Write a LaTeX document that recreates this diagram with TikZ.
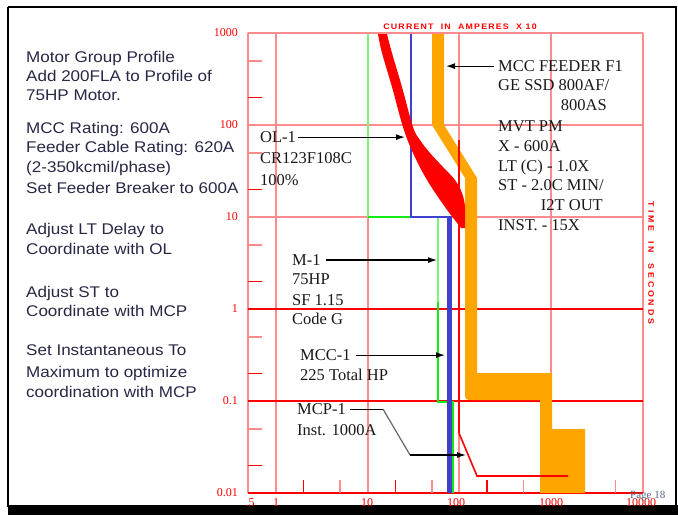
\documentclass[tikz,border=0pt]{standalone}
\usepackage{fontspec}
\usepackage{graphicx}
\setmainfont{Liberation Serif}
\newfontfamily\lsans[FakeStretch=1.1]{Liberation Sans}
\usetikzlibrary{arrows.meta}
\definecolor{gpink}{RGB}{255,140,140}
\definecolor{ocurve}{RGB}{255,165,0}
\definecolor{bcurve}{RGB}{64,64,204}
\definecolor{gcurve}{RGB}{20,235,20}
\definecolor{lgreen}{RGB}{120,245,120}
\definecolor{notetext}{RGB}{40,40,70}
\definecolor{pagetext}{RGB}{90,100,130}
\begin{document}
\begin{tikzpicture}[x=1pt,y=-1pt,
  pinkline/.style={draw=gpink,line width=1.3pt},
  redline/.style={draw=red,line width=1.3pt},
  ticklight/.style={fill=gpink},
  tickred/.style={fill=red},
  axlab/.style={text=red,font=\fontsize{12}{12}\selectfont,inner sep=0pt},
  note/.style={font=\fontsize{15.5}{15.5}\lsans,text=notetext,anchor=base west,inner sep=0pt},
  ann/.style={font=\fontsize{16.5}{16.5}\selectfont,text=black!90,anchor=base west,inner sep=0pt},
  annr/.style={ann,anchor=base east},
  arr/.style={-{Latex[length=9pt,width=6pt]},line width=1.2pt,black}]
\useasboundingbox (0,0) rectangle (678,515);
\fill[white] (0,0) rectangle (678,515);
% frame
\draw[line width=1.2pt] (8,7) -- (676,7) -- (676,507);
\draw[line width=2pt] (8,7) -- (8,507);
\fill[black] (8,505) rectangle (678,515);
% grid
\foreach \gx in {248,276,368,459,551,643} \draw[pinkline] (\gx,33) -- (\gx,493);
\foreach \gy in {33,125,217} \draw[pinkline] (248,\gy) -- (643,\gy);
\foreach \gy in {309,401,493} \draw[redline] (248,\gy) -- (643,\gy);
% ticks
\foreach \ty in {60.7,152.7,244.7,336.7,428.7} \fill[ticklight] (248,\ty-0.8) rectangle (262,\ty+0.8);
\foreach \ty in {97.3,189.3,281.3,373.3,465.3} \fill[tickred] (248,\ty-0.8) rectangle (262,\ty+0.8);
\foreach \tx in {303.6,395.4,487.1,578.9} \fill[tickred] (\tx-0.8,493) rectangle (\tx+0.8,480);
\foreach \tx in {340.1,431.9,523.6,615.4} \fill[ticklight] (\tx-0.8,493) rectangle (\tx+0.8,480);
% axis labels
\node[axlab,anchor=east] (y1000) at (238,33) {1000};
\node[axlab,anchor=east] (y100) at (238,125) {100};
\node[axlab,anchor=east] (y10) at (238,217) {10};
\node[axlab,anchor=east] (y1) at (238,309) {1};
\node[axlab,anchor=east] (y01) at (238,401) {0.1};
\node[axlab,anchor=east] (y001) at (238,493) {0.01};
\node[axlab] (x05) at (250,503) {.5};
\node[axlab] (x1) at (276,503) {1};
\node[axlab] (x10) at (367,503) {10};
\node[axlab] (x100) at (456,503) {100};
\node[axlab] (x1000) at (551,503) {1000};
\node[axlab] (x10000) at (641,503) {10000};
\node[text=pagetext,font=\fontsize{11}{11}\selectfont,anchor=west,inner sep=0pt] (page) at (630,496) {Page 18};
\node[text=red,font={\fontsize{8}{8}\lsans\bfseries\addfontfeature{LetterSpace=15}},inner sep=0pt] (xtitle) at (460,27) {CURRENT\ \ IN\ \ AMPERES\ \ X 10};
\node[text=red,font={\fontsize{8}{8}\lsans\bfseries\addfontfeature{LetterSpace=35}},inner sep=0pt,rotate=-90] (ytitle) at (651,263) {TIME\ \ IN\ \ SECONDS};
% orange feeder band
\fill[ocurve] (432,34) -- (444,34) -- (444,125) -- (477,178) -- (477,373) -- (552,373) -- (552,429) -- (585,429) -- (585,493) -- (540,493) -- (540,400) -- (473,400) .. controls (465,400) .. (465,392) -- (465,178) -- (432,125) -- cycle;
% green motor curve
\draw[lgreen,line width=2pt] (368,34) -- (368,217) -- (438,217) -- (438,302);
\draw[gcurve,line width=2pt] (438,302) -- (438,402) -- (453,402) -- (453,493);
\draw[gcurve,line width=2pt] (368,217) -- (411,217);
% blue MCC curve
\draw[bcurve,line width=2.5pt] (411,34) -- (411,217) -- (452,217);
\draw[bcurve,line width=5pt] (449.5,216) -- (449.5,493);
% red OL band
\fill[red] plot[smooth,tension=0.6] coordinates {(378,34) (382,53) (392,87) (403,127) (413,153) (427,180) (445,207) (461,228)} -- plot[smooth,tension=0.6] coordinates {(465,228) (465,207) (462,193) (455,180) (443,167) (430,153) (420,140) (413,127) (402,87) (392,53) (387,34)} -- cycle;
% MCP curve
\draw[red,line width=1.6pt] (459,140) -- (459,433) -- (477,476) -- (568,476);
% left notes
\node[note] (n1) at (26,62) {Motor Group Profile};
\node[note] (n2) at (26,81) {Add 200FLA to Profile of};
\node[note] (n3) at (26,100) {75HP Motor.};
\node[note] (n4) at (26,133) {MCC Rating: 600A};
\node[note] (n5) at (26,152) {Feeder Cable Rating: 620A};
\node[note] (n6) at (26,172) {(2-350kcmil/phase)};
\node[note] (n7) at (26,193) {Set Feeder Breaker to 600A};
\node[note] (n8) at (26,234) {Adjust LT Delay to};
\node[note] (n9) at (26,254) {Coordinate with OL};
\node[note] (n10) at (26,297) {Adjust ST to};
\node[note] (n11) at (26,316) {Coordinate with MCP};
\node[note] (n12) at (26,355) {Set Instantaneous To};
\node[note] (n13) at (26,377) {Maximum to optimize};
\node[note] (n14) at (26,397) {coordination with MCP};
% feeder annotations
\node[ann] (f1) at (498,71.5) {MCC FEEDER F1};
\node[ann] (f2) at (498,90.5) {GE SSD 800AF/};
\node[annr] (f3) at (607,110.5) {800AS};
\node[ann] (f4) at (498,131.5) {MVT PM};
\node[ann] (f5) at (498,151.5) {X - 600A};
\node[ann] (f6) at (498,171.5) {LT (C) - 1.0X};
\node[ann] (f7) at (498,190.5) {ST - 2.0C MIN/};
\node[annr] (f8) at (603,210.5) {I2T OUT};
\node[ann] (f9) at (498,230.5) {INST. - 15X};
\coordinate (f1tip) at (446,66);
\draw[arr] ([xshift=-4pt]f1.west) -- (f1.west -| f1tip);
% OL
\node[ann] (ol) at (260,142.5) {OL-1};
\node[ann] (ol2) at (260,163.5) {CR123F108C};
\node[ann] (ol3) at (260,185.5) {100\%};
\coordinate (oltip) at (405,137);
\draw[arr] ([xshift=2pt]ol.east) -- (ol.east -| oltip);
% M-1
\node[ann] (m1) at (292,265.5) {M-1};
\node[ann] (m2) at (292,284.5) {75HP};
\node[ann] (m3) at (292,305.5) {SF 1.15};
\node[ann] (m4) at (292,324.5) {Code G};
\coordinate (m1tip) at (437,257);
\draw[arr] ([xshift=5pt]m1.east) -- (m1.east -| m1tip);
% MCC-1
\node[ann] (c1) at (300,360.5) {MCC-1};
\node[ann] (c2) at (300,380.5) {225 Total HP};
\coordinate (c1tip) at (445,355);
\draw[arr] ([xshift=5pt]c1.east) -- (c1.east -| c1tip);
% MCP-1
\node[ann] (p1) at (297,414.5) {MCP-1};
\node[ann] (p2) at (297,435.5) {Inst. 1000A};
\coordinate (pb1) at (383,409);
\coordinate (pb2) at (410,455);
\coordinate (p1tip) at (466,455);
\draw[line width=1.2pt] ([xshift=4pt]p1.east) -- (p1.east -| pb1);
\draw[line width=1.2pt,black!60] (p1.east -| pb1) -- (pb2);
\draw[arr] (pb2) -- (p1tip);
\end{tikzpicture}
\end{document}
